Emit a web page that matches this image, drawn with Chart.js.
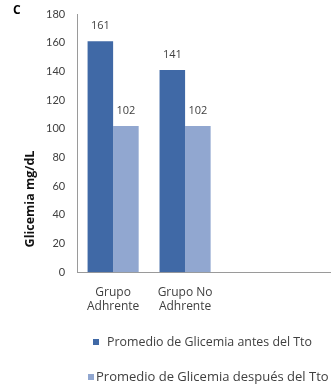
<!DOCTYPE html>
<html>
<head>
<meta charset="utf-8">
<script src="https://cdn.jsdelivr.net/npm/chart.js@4/dist/chart.umd.min.js"></script>
<style>
  html, body { margin: 0; padding: 0; background: #fff; overflow: hidden; }
  #wrap { width: 365px; height: 387px; }
</style>
</head>
<body>
<div id="wrap"><canvas id="c" width="365" height="387"></canvas></div>
<script>
// Categories (the two trailing slots are empty on the axis)
const categories = [["Grupo", "Adhrente"], ["Grupo No", "Adhrente"], "", ""];
// Mean glycemia (mg/dL) per group
const antesTto = [161, 141];
const despuesTto = [102, 102];
const seriesNames = ["Promedio de Glicemia antes del Tto", "Promedio de Glicemia después del Tto"];
const yTicks = [0, 20, 40, 60, 80, 100, 120, 140, 160, 180];

const FONT = "Lato, 'Open Sans', sans-serif";
const WIDE = "'Open Sans', Lato, sans-serif";
const TEXT = "#404040";
const DARK = "#4069a6";
const LIGHT = "#91a7d0";

// Value labels above each bar
const valueLabels = {
  id: "valueLabels",
  afterDatasetsDraw(chart) {
    const ctx = chart.ctx;
    ctx.save();
    ctx.font = "11px " + WIDE;
    ctx.fillStyle = TEXT;
    ctx.textAlign = "center";
    ctx.textBaseline = "middle";
    chart.data.datasets.forEach((ds, i) => {
      const meta = chart.getDatasetMeta(i);
      meta.data.forEach((el, j) => {
        const v = ds.data[j];
        if (v == null) return;
        ctx.fillText(String(v), el.x, el.y - 15);
      });
    });
    ctx.restore();
  }
};

// Panel letter, rotated axis title and a stacked legend
const extras = {
  id: "extras",
  afterDraw(chart) {
    const ctx = chart.ctx;
    ctx.save();
    ctx.fillStyle = "#000";
    ctx.font = "bold 12px " + WIDE;
    ctx.textAlign = "left";
    ctx.textBaseline = "middle";
    ctx.fillText("C", 13, 11);

    ctx.translate(30, 199);
    ctx.rotate(-Math.PI / 2);
    ctx.textAlign = "center";
    ctx.font = "bold 12.5px " + WIDE;
    ctx.fillStyle = "#111";
    ctx.fillText("Glicemia mg/dL", 0, 0);
    ctx.restore();

    ctx.save();
    const ds = chart.data.datasets;
    const rows = [
      { sq: 93, tx: 107, y: 342, size: 12.4 },
      { sq: 88, tx: 96, y: 377, size: 13 }
    ];
    rows.forEach((r, i) => {
      ctx.fillStyle = ds[i].backgroundColor;
      ctx.fillRect(r.sq, r.y - 3, 6, 6);
      ctx.fillStyle = TEXT;
      ctx.font = r.size + "px " + WIDE;
      ctx.textAlign = "left";
      ctx.textBaseline = "middle";
      ctx.fillText(ds[i].label, r.tx, r.y);
    });
    ctx.restore();
  }
};

new Chart(document.getElementById("c"), {
  type: "bar",
  data: {
    labels: categories,
    datasets: [
      { label: seriesNames[0], data: antesTto, backgroundColor: DARK },
      { label: seriesNames[1], data: despuesTto, backgroundColor: LIGHT }
    ]
  },
  options: {
    responsive: false,
    animation: false,
    devicePixelRatio: 1,
    categoryPercentage: 0.71,
    barPercentage: 1,
    layout: { padding: { left: 34, top: 0, right: 0, bottom: 60 } },
    plugins: {
      legend: { display: false },
      tooltip: { enabled: false }
    },
    scales: {
      x: {
        grid: { display: false, drawTicks: false },
        border: { display: true, color: "#9a9a9a", width: 1 },
        ticks: { color: TEXT, font: { family: WIDE, size: 12 }, padding: 13, maxRotation: 0, autoSkip: false }
      },
      y: {
        min: 0,
        max: 180,
        afterBuildTicks(scale) { scale.ticks = yTicks.map(v => ({ value: v })); },
        // keep the top of the plot close to the canvas edge
        afterFit(scale) { scale.paddingTop = 14; },
        grid: { display: false, drawTicks: false },
        border: { display: true, color: "#9a9a9a", width: 1 },
        ticks: { color: TEXT, font: { family: FONT, size: 11 }, padding: 12 }
      }
    }
  },
  plugins: [valueLabels, extras]
});
</script>
</body>
</html>
